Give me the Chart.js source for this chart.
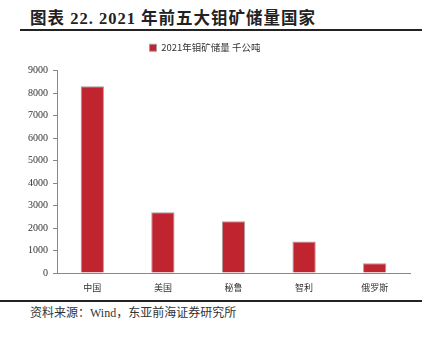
<!DOCTYPE html>
<html>
<head>
<meta charset="utf-8">
<script src="https://cdn.jsdelivr.net/npm/chart.js@4"></script>
<style>
  body { margin: 0; background: #fff; width: 439px; height: 337px; position: relative; overflow: hidden; }
  #title { position: absolute; left: 30px; top: 5px; font-family: "Liberation Serif", "Noto Sans CJK SC", serif; font-weight: bold; font-size: 16.5px; letter-spacing: 1px; color: #222; white-space: nowrap; }
  #title .cn { font-family: "Noto Sans CJK SC", sans-serif; font-weight: bold; }
  #topline { position: absolute; left: 20px; width: 402px; top: 29px; height: 2px; background: #222; }
  #bottomline { position: absolute; left: 0px; width: 422px; top: 300px; height: 2px; background: #222; }
  #source { position: absolute; left: 30px; top: 303px; font-family: "Liberation Serif", "Noto Sans CJK SC", serif; font-size: 12px; color: #333; white-space: nowrap; }
  #wrap { position: absolute; left: 0; top: 35px; width: 439px; height: 265px; }
</style>
</head>
<body>
<div id="title"><span class="cn">图表</span> 22. 2021 <span class="cn">年前五大钼矿储量国家</span></div>
<div id="topline"></div>
<div id="wrap"><canvas id="chart"></canvas></div>
<div id="bottomline"></div>
<div id="source">资料来源：Wind，东亚前海证券研究所</div>
<script>
// 2021年前五大钼矿储量国家（千公吨）
const countries = ['中国', '美国', '秘鲁', '智利', '俄罗斯']
const reserves = [8300, 2700, 2300, 1400, 430]
const seriesName = '2021年钼矿储量 千公吨'
const yMax = 9000
const yStep = 1000

// leave a bit more room under the legend
const legendGap = {
  id: 'legendGap',
  beforeInit(chart) {
    const fit = chart.legend.fit
    chart.legend.fit = function () {
      fit.call(this)
      this.height += 8
    }
  }
}

const ctx = document.getElementById('chart').getContext('2d')
new Chart(ctx, {
  type: 'bar',
  data: {
    labels: countries,
    datasets: [{
      label: seriesName,
      data: reserves,
      backgroundColor: '#C0242F',
      borderColor: '#a89a9c',
      borderWidth: 1,
      categoryPercentage: 1,
      barPercentage: 0.33
    }]
  },
  plugins: [legendGap],
  options: {
    responsive: true,
    maintainAspectRatio: false,
    animation: false,
    layout: { padding: { left: 0, right: 29, top: 0, bottom: 0 } },
    plugins: {
      legend: {
        display: true,
        position: 'top',
        labels: {
          boxWidth: 7,
          boxHeight: 7,
          padding: 8,
          color: '#333',
          font: { family: '"Noto Sans CJK SC", sans-serif', size: 9.5 }
        }
      },
      tooltip: { enabled: false }
    },
    scales: {
      y: {
        min: 0,
        max: yMax,
        afterFit: scale => { scale.width = 57 },
        ticks: {
          stepSize: yStep,
          padding: 5,
          color: '#333',
          font: { family: '"Liberation Serif", serif', size: 10 },
          callback: v => String(v)
        },
        grid: {
          drawOnChartArea: false,
          tickLength: 4,
          color: '#888'
        },
        border: { color: '#888', width: 1 }
      },
      x: {
        afterFit: scale => { scale.height = 27 },
        ticks: {
          padding: 1,
          color: '#333',
          font: { family: '"Noto Sans CJK SC", sans-serif', size: 9 }
        },
        grid: { display: false },
        border: { color: '#888', width: 1 }
      }
    }
  }
})
</script>
</body>
</html>
